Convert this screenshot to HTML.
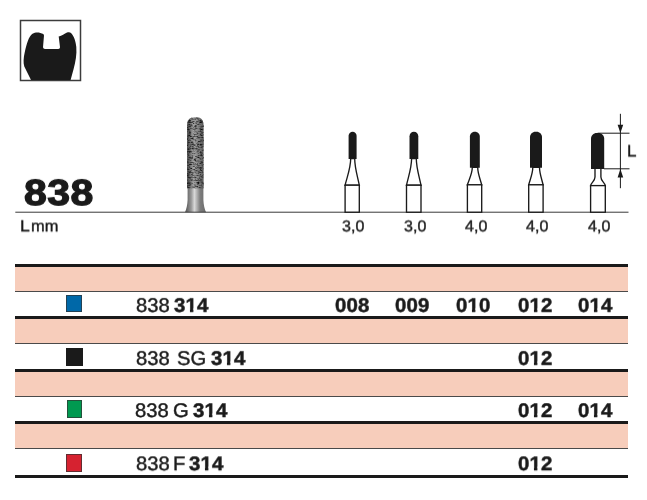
<!DOCTYPE html>
<html>
<head>
<meta charset="utf-8">
<title>838</title>
<style>
html,body{margin:0;padding:0;background:#fff;}
body{width:647px;height:500px;position:relative;overflow:hidden;font-family:"Liberation Sans",sans-serif;color:#1a1a1a;}
#art{position:absolute;left:0;top:0;}
.t{position:absolute;white-space:nowrap;line-height:1;transform-origin:0 0;-webkit-text-stroke:.25px #1a1a1a;text-rendering:geometricPrecision;will-change:transform;}
#big{left:23.5px;top:174px;font-size:36.3px;font-weight:700;letter-spacing:.4px;-webkit-text-stroke:1.2px #1a1a1a;transform:translateY(.9px) rotate(.02deg) scaleX(1.132);}
#lmm{left:20.5px;top:218px;font-size:15px;}
#lmm span{margin-left:2.5px;}
.len{font-size:15px;top:218px;width:40px;text-align:center;}
.row{position:absolute;left:15px;width:613px;}
.pink{position:absolute;left:15.4px;width:613px;background:#f7cdbb;}
.thick{position:absolute;left:15.4px;width:613px;height:3.1px;background:#1a1a1a;}
.thin{position:absolute;left:15.4px;width:613px;height:.9px;background:#4a4a4a;}
.sq{position:absolute;box-sizing:border-box;border:.8px solid rgba(50,50,50,.7);}
.code{left:136.5px;font-size:18.4px;letter-spacing:.55px;}
.code b{font-weight:700;}
.sz{font-size:18.4px;font-weight:700;letter-spacing:.5px;width:60px;text-align:center;}
.o{display:inline-block;clip-path:polygon(0 0,100% 0,100% 58%,69% 58%,69% 100%,39.5% 100%,39.5% 58%,0 58%);}
</style>
</head>
<body>
<svg id="art" width="647" height="500" viewBox="0 0 647 500">
  <defs>
    <linearGradient id="met" x1="0" x2="1" y1="0" y2="0">
      <stop offset="0" stop-color="#585858"/>
      <stop offset=".12" stop-color="#6c6c6c"/>
      <stop offset=".3" stop-color="#9a9a9a"/>
      <stop offset=".45" stop-color="#d8d8d8"/>
      <stop offset=".58" stop-color="#adadad"/>
      <stop offset=".72" stop-color="#7c7c7c"/>
      <stop offset=".92" stop-color="#707070"/>
      <stop offset="1" stop-color="#585858"/>
    </linearGradient>
    <linearGradient id="dia" x1="0" x2="1" y1="0" y2="0">
      <stop offset="0" stop-color="#474747"/>
      <stop offset=".16" stop-color="#6a6a6a"/>
      <stop offset=".4" stop-color="#a6a6a6"/>
      <stop offset=".62" stop-color="#8a8a8a"/>
      <stop offset=".85" stop-color="#707070"/>
      <stop offset="1" stop-color="#5a5a5a"/>
    </linearGradient>
    <filter id="grain" x="0" y="0" width="100%" height="100%">
      <feTurbulence type="fractalNoise" baseFrequency="0.32 0.8" numOctaves="2" seed="7" result="n"/>
      <feColorMatrix in="n" type="matrix" values="0 0 0 0 0  0 0 0 0 0  0 0 0 0 0  1.8 0 0 0 -0.88" result="a"/>
      <feComposite in="a" in2="SourceGraphic" operator="in"/>
    </filter>
    <filter id="grain2" x="0" y="0" width="100%" height="100%">
      <feTurbulence type="fractalNoise" baseFrequency="0.36 0.85" numOctaves="2" seed="23" result="n"/>
      <feColorMatrix in="n" type="matrix" values="0 0 0 0 0  0 0 0 0 0  0 0 0 0 0  2.6 0 0 0 -1.3" result="a"/>
      <feComposite in="a" in2="SourceGraphic" operator="in"/>
    </filter>
    <filter id="soft" x="-10%" y="-5%" width="120%" height="110%">
      <feGaussianBlur stdDeviation="0.42"/>
    </filter>
    <filter id="soft2" x="-10%" y="-5%" width="120%" height="110%">
      <feGaussianBlur stdDeviation="0.35"/>
    </filter>
  </defs>

  <!-- tooth icon -->
  <rect x="20.5" y="20.5" width="60" height="60" fill="#fff" stroke="#3c3c3c" stroke-width="1.5"/>
  <path id="tooth" fill="#1a1a1a" d="M31 80 L24.3 66.5 C23.2 63 23.4 58 24.8 52 C26.5 45 28.5 36.5 32.5 33.8 C35.5 31.8 39.5 32 43.4 34 L44 35.5 L43 47.3 Q43.2 49 45 49 L58.3 49 Q60.1 49 60 47.3 L58.8 37.2 L58.6 36.4 C61.5 36.6 64.5 33.6 67 32.6 C68.5 32 70 32 71 33 C74 36 75.8 41.5 76.3 47 C76.9 54 75.6 62 73.6 69 L70.6 80 Z"/>

  <!-- photo of bur -->
  <g id="bur">
    <g filter="url(#soft2)">
      <path d="M187.6 187 L187.6 200 C187.4 205 186.4 209 185 212.2 L206 212.2 C204.6 209 203.6 205 203.4 200 L203.4 187 Z" fill="url(#met)"/>
    </g>
    <g filter="url(#soft)">
      <path d="M187.1 188.2 L187.1 125 C187.1 120 190 117.3 194 117.3 L196.7 117.3 C200.7 117.3 203.6 120 203.6 125 L203.6 188.2 Z" fill="url(#dia)"/>
      <path d="M187.1 188.2 L187.1 125 C187.1 120 190 117.3 194 117.3 L196.7 117.3 C200.7 117.3 203.6 120 203.6 125 L203.6 188.2 Z" fill="#1c1c1c" filter="url(#grain)"/>
      <path d="M187.1 188.2 L187.1 125 C187.1 120 190 117.3 194 117.3 L196.7 117.3 C200.7 117.3 203.6 120 203.6 125 L203.6 188.2 Z" fill="#f2f2f2" filter="url(#grain2)"/>
    </g>
  </g>

  <!-- baseline -->
  <rect x="15.3" y="211.7" width="613.2" height="1" fill="#3a3a3a"/>

  <!-- silhouettes -->
<g fill="#1a1a1a" stroke="none">
  <path d="M348.60 159.00 L348.60 135.80 C348.60 133.59 350.39 131.80 352.60 131.80 L352.60 131.80 C354.81 131.80 356.60 133.59 356.60 135.80 L356.60 159.00 Z"/>
  <path d="M409.50 159.00 L409.50 136.20 C409.50 133.77 411.47 131.80 413.90 131.80 L413.90 131.80 C416.33 131.80 418.30 133.77 418.30 136.20 L418.30 159.00 Z"/>
  <path d="M469.90 167.80 L469.90 136.60 C469.90 133.95 472.05 131.80 474.70 131.80 L475.00 131.80 C477.65 131.80 479.80 133.95 479.80 136.60 L479.80 167.80 Z"/>
  <path d="M530.00 167.80 L530.00 137.20 C530.00 134.22 532.42 131.80 535.40 131.80 L536.60 131.80 C539.58 131.80 542.00 134.22 542.00 137.20 L542.00 167.80 Z"/>
  <path d="M591.00 168.90 L591.00 138.50 C591.00 135.41 593.51 132.90 596.60 132.90 L598.60 132.90 C601.69 132.90 604.20 135.41 604.20 138.50 L604.20 168.90 Z"/>
</g>
<g fill="#fff" stroke="#1a1a1a" stroke-width="1.35" stroke-linejoin="miter">
  <path d="M350.7 158.5 C350.7 168.11 347.12 176.66 345.1 185.2 L359.3 185.2 C357.64 176.66 354.7 168.11 354.7 158.5 Z"/>
  <rect x="345.1" y="185.2" width="14.20" height="27.00"/>
  <path d="M411.6 158.5 C411.6 168.11 408.34 176.66 406.5 185.2 L421.0 185.2 C419.31 176.66 416.3 168.11 416.3 158.5 Z"/>
  <rect x="406.5" y="185.2" width="14.50" height="27.00"/>
  <path d="M472.3 167.3 C472.3 173.60 469.16 179.20 467.4 184.8 L481.7 184.8 C480.26 179.20 477.7 173.60 477.7 167.3 Z"/>
  <rect x="467.4" y="184.8" width="14.30" height="27.40"/>
  <path d="M532.8 167.3 C532.8 173.60 530.18 179.20 528.7 184.8 L543.1 184.8 C541.80 179.20 539.5 173.60 539.5 167.3 Z"/>
  <rect x="528.7" y="184.8" width="14.40" height="27.40"/>
  <path d="M595.0 168.4 L595.0 177 C595.0 181 591.2 182.5 590.6 185.6 L605.3 185.6 C604.6999999999999 182.5 600.9 181 600.9 177 L600.9 168.4 Z"/>
  <rect x="590.6" y="185.6" width="14.70" height="26.60"/>
</g>

  <!-- dimension L -->
  <g stroke="#1a1a1a" stroke-width="1" fill="none">
    <path d="M597.6 133.2 H629.5 M604 168.8 H629.5 M620.4 113.8 V188.2"/>
  </g>
  <path d="M620.4 133 L617.6 124.8 L623.2 124.8 Z M620.4 169 L617.6 177.4 L623.2 177.4 Z" fill="#1a1a1a"/>
</svg>

<div class="t" id="big">838</div>

<!-- table -->
<div class="pink" style="top:264.8px;height:26.7px"></div>
<div class="pink" style="top:317.2px;height:26.6px"></div>
<div class="pink" style="top:369.9px;height:26.6px"></div>
<div class="pink" style="top:422.3px;height:26.6px"></div>
<div class="thick" style="top:263.8px"></div>
<div class="thick" style="top:316.2px"></div>
<div class="thick" style="top:368.9px"></div>
<div class="thick" style="top:421.3px"></div>
<div class="thick" style="top:474.8px"></div>
<div class="thin" style="top:291.0px"></div>
<div class="thin" style="top:343.3px"></div>
<div class="thin" style="top:396.0px"></div>
<div class="thin" style="top:448.4px"></div>
<div class="sq" style="left:66.1px;top:294.9px;width:15.9px;height:16.9px;background:#0068a8"></div>
<div class="sq" style="left:66px;top:347.9px;width:16.5px;height:17.8px;background:#1a1a1a;border-color:#1a1a1a"></div>
<div class="sq" style="left:66.7px;top:400.1px;width:15.8px;height:17.8px;background:#009950"></div>
<div class="sq" style="left:66.1px;top:454px;width:15.8px;height:17.5px;background:#d62230"></div>

<!--TEXT-->
<div class="t" style="left:135.98px;top:296px;font-size:19.7px;-webkit-text-stroke-width:.4px;transform:translateY(0.86px) rotate(.03deg) scaleX(1.03)">838</div>
<div class="t" style="left:174.37px;top:296px;font-size:19.7px;font-weight:700;-webkit-text-stroke-width:.45px;transform:translateY(0.86px) rotate(.03deg) scaleX(1.044)">3<span class="o">1</span>4</div>
<div class="t" style="left:334.87px;top:296px;font-size:19.7px;font-weight:700;-webkit-text-stroke-width:.45px;transform:translateY(0.86px) rotate(.03deg) scaleX(1.044)">008</div>
<div class="t" style="left:394.72px;top:296px;font-size:19.7px;font-weight:700;-webkit-text-stroke-width:.45px;transform:translateY(0.86px) rotate(.03deg) scaleX(1.044)">009</div>
<div class="t" style="left:455.62px;top:296px;font-size:19.7px;font-weight:700;-webkit-text-stroke-width:.45px;transform:translateY(0.86px) rotate(.03deg) scaleX(1.044)">0<span class="o">1</span>0</div>
<div class="t" style="left:518.07px;top:296px;font-size:19.7px;font-weight:700;-webkit-text-stroke-width:.45px;transform:translateY(0.86px) rotate(.03deg) scaleX(1.044)">0<span class="o">1</span>2</div>
<div class="t" style="left:577.81px;top:296px;font-size:19.7px;font-weight:700;-webkit-text-stroke-width:.45px;transform:translateY(0.86px) rotate(.03deg) scaleX(1.044)">0<span class="o">1</span>4</div>
<div class="t" style="left:136.03px;top:349px;font-size:19.7px;-webkit-text-stroke-width:.4px;transform:translateY(0.86px) rotate(.03deg) scaleX(1.03)">838</div>
<div class="t" style="left:177.06px;top:349px;font-size:19.7px;-webkit-text-stroke-width:.4px;transform:translateY(0.86px) rotate(.03deg) scaleX(1.03)">SG</div>
<div class="t" style="left:211.22px;top:349px;font-size:19.7px;font-weight:700;-webkit-text-stroke-width:.45px;transform:translateY(0.86px) rotate(.03deg) scaleX(1.044)">3<span class="o">1</span>4</div>
<div class="t" style="left:518.07px;top:349px;font-size:19.7px;font-weight:700;-webkit-text-stroke-width:.45px;transform:translateY(0.86px) rotate(.03deg) scaleX(1.044)">0<span class="o">1</span>2</div>
<div class="t" style="left:135.23px;top:402px;font-size:19.7px;-webkit-text-stroke-width:.4px;transform:translateY(0.01px) rotate(.03deg) scaleX(1.03)">838</div>
<div class="t" style="left:173.35px;top:402px;font-size:19.7px;-webkit-text-stroke-width:.4px;transform:translateY(0.01px) rotate(.03deg) scaleX(1.03)">G</div>
<div class="t" style="left:192.62px;top:402px;font-size:19.7px;font-weight:700;-webkit-text-stroke-width:.45px;transform:translateY(0.01px) rotate(.03deg) scaleX(1.044)">3<span class="o">1</span>4</div>
<div class="t" style="left:518.07px;top:402px;font-size:19.7px;font-weight:700;-webkit-text-stroke-width:.45px;transform:translateY(0.01px) rotate(.03deg) scaleX(1.044)">0<span class="o">1</span>2</div>
<div class="t" style="left:577.81px;top:402px;font-size:19.7px;font-weight:700;-webkit-text-stroke-width:.45px;transform:translateY(0.01px) rotate(.03deg) scaleX(1.044)">0<span class="o">1</span>4</div>
<div class="t" style="left:135.73px;top:455px;font-size:19.7px;-webkit-text-stroke-width:.4px;transform:translateY(0.21px) rotate(.03deg) scaleX(1.03)">838</div>
<div class="t" style="left:173.28px;top:455px;font-size:19.7px;-webkit-text-stroke-width:.4px;transform:translateY(0.21px) rotate(.03deg) scaleX(1.03)">F</div>
<div class="t" style="left:189.32px;top:455px;font-size:19.7px;font-weight:700;-webkit-text-stroke-width:.45px;transform:translateY(0.21px) rotate(.03deg) scaleX(1.044)">3<span class="o">1</span>4</div>
<div class="t" style="left:518.07px;top:455px;font-size:19.7px;font-weight:700;-webkit-text-stroke-width:.45px;transform:translateY(0.21px) rotate(.03deg) scaleX(1.044)">0<span class="o">1</span>2</div>
<div class="t" style="left:19.62px;top:219px;font-size:15.95px;-webkit-text-stroke-width:.4px;transform:translateY(0.38px) rotate(.03deg) scaleX(1.103)">L</div>
<div class="t" style="left:30.91px;top:219px;font-size:15.95px;-webkit-text-stroke-width:.4px;transform:translateY(0.38px) rotate(.03deg) scaleX(1.031)">mm</div>
<div class="t" style="left:342.15px;top:219px;font-size:15.95px;-webkit-text-stroke-width:.4px;transform:translateY(0.43px) rotate(.03deg) scaleX(1.007)">3,0</div>
<div class="t" style="left:403.6px;top:219px;font-size:15.95px;-webkit-text-stroke-width:.4px;transform:translateY(0.43px) rotate(.03deg) scaleX(1.007)">3,0</div>
<div class="t" style="left:464.57px;top:219px;font-size:15.95px;-webkit-text-stroke-width:.4px;transform:translateY(0.43px) rotate(.03deg) scaleX(1.007)">4,0</div>
<div class="t" style="left:525.87px;top:219px;font-size:15.95px;-webkit-text-stroke-width:.4px;transform:translateY(0.43px) rotate(.03deg) scaleX(1.007)">4,0</div>
<div class="t" style="left:587.82px;top:219px;font-size:15.95px;-webkit-text-stroke-width:.4px;transform:translateY(0.43px) rotate(.03deg) scaleX(1.007)">4,0</div>
<div class="t" style="left:627.3px;top:143px;font-size:16.4px;-webkit-text-stroke-width:.4px;transform:translateY(0.5px) rotate(.03deg) scaleX(1.04)">L</div>
<!--/TEXT-->
</body>
</html>
